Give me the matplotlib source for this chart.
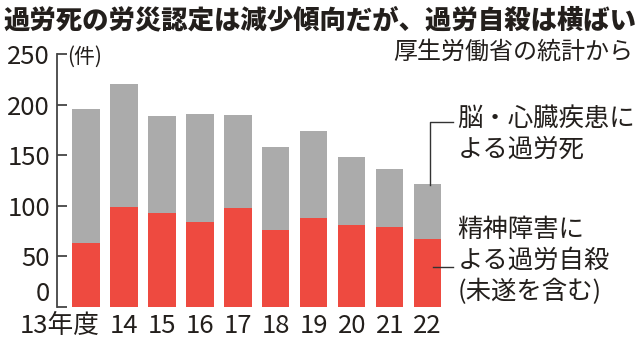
import matplotlib
matplotlib.use('Agg')
import matplotlib.pyplot as plt
from matplotlib import font_manager

plt.rcParams['font.family'] = ['Noto Sans CJK JP', 'DejaVu Sans']

years = ['13年度', '14', '15', '16', '17', '18', '19', '20', '21', '22']
suicide = [63, 99, 93, 84, 98, 76, 88, 81, 79, 67]      # 精神障害による過労自殺
karoshi = [133, 121, 96, 107, 92, 82, 86, 67, 57, 54]   # 脳・心臓疾患による過労死
yticks = [0, 50, 100, 150, 200, 250]

RED = '#EE4A40'
GRAY = '#ABABAB'
INK = '#231F1C'

# narrow digits like the newspaper font, if one is around
names = {f.name for f in font_manager.fontManager.ttflist}
if 'Liberation Sans Narrow' in names:
    NUM_FONT = ['Liberation Sans Narrow', 'Noto Sans CJK JP']
else:
    NUM_FONT = ['Noto Sans CJK JP']
NUM_SIZE = 18.5

fig = plt.figure(figsize=(6.4, 3.42), dpi=100)
ax = fig.add_axes([0.089, 0.103, 0.609, 0.739])

x = list(range(len(years)))
w = 0.72
ax.bar(x, suicide, width=w, color=RED, linewidth=0)
ax.bar(x, karoshi, width=w, bottom=suicide, color=GRAY, linewidth=0)

ax.set_xlim(-0.763, 9.5)
ax.set_ylim(0, 250)

for s in ['top', 'right', 'bottom']:
    ax.spines[s].set_visible(False)
ax.spines['left'].set_color('#444444')
ax.spines['left'].set_linewidth(1.3)

ax.set_yticks(yticks)
ax.set_yticklabels([str(v) for v in yticks], family=NUM_FONT, fontsize=NUM_SIZE, color=INK)
ax.tick_params(axis='y', direction='in', length=7, width=1.3, color='#444444', pad=5)
# the "0" sits on the baseline in the original
ax.get_yticklabels()[0].set_va('bottom')
ax.set_xticks([])

# x labels (first one is right-aligned to the bar edge)
for i, lab in enumerate(years):
    if i == 0:
        ax.text(i + w / 2, -6, lab, ha='right', va='top', family=NUM_FONT,
                fontsize=NUM_SIZE, color=INK)
    else:
        ax.text(i, -6, lab, ha='center', va='top', family=NUM_FONT,
                fontsize=NUM_SIZE, color=INK)

ax.text(0.026, 0.99, '(件)', transform=ax.transAxes, ha='left', va='center',
        fontsize=15, color=INK)

fig.text(0.5, 0.942, '過労死の労災認定は減少傾向だが、過労自殺は横ばい',
         ha='center', va='center', fontsize=19, fontweight='black', color=INK)
fig.text(0.99, 0.848, '厚生労働省の統計から', ha='right', va='center',
         fontsize=17.3, color=INK)

# leader lines and labels
last = len(years) - 1
top = suicide[last] + karoshi[last]
ax.plot([last + 0.05, last + 0.05, last + 0.66], [top - 1, 182.7, 182.7],
        color='#333333', lw=1.0, clip_on=False)
ax.plot([last + 0.13, last + 0.66], [39, 39], color='#333333', lw=1.0, clip_on=False)

ax.text(last + 0.78, 199, '脳・心臓疾患に\nよる過労死', ha='left', va='top',
        fontsize=18.3, color=INK, linespacing=1.25)
ax.text(last + 0.78, 89, '精神障害に\nよる過労自殺\n(未遂を含む)', ha='left', va='top',
        fontsize=18.3, color=INK, linespacing=1.25)

fig.savefig('out.png', dpi=100)
